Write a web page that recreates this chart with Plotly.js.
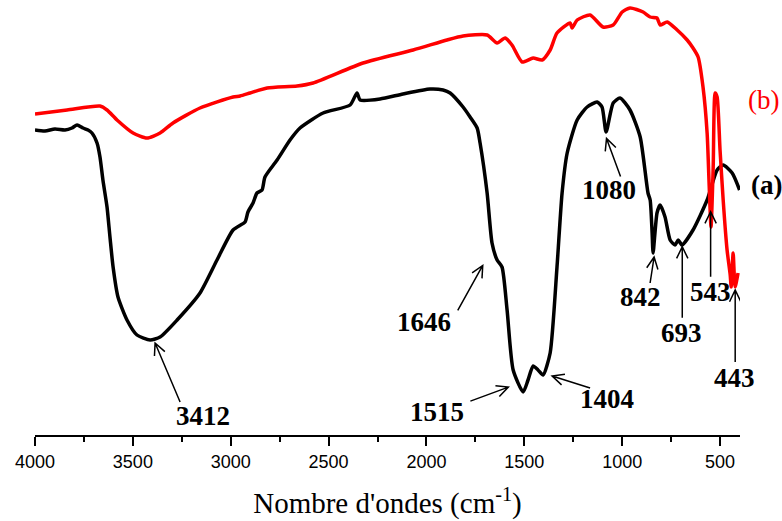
<!DOCTYPE html>
<html>
<head>
<meta charset="utf-8">
<script src="https://cdn.plot.ly/plotly-3.0.1.min.js"></script>
<style>html,body{margin:0;padding:0;background:#fff;}</style>
</head>
<body>
<div id="chart" style="width:782px;height:521px;"></div>
<script>
// Wavenumbers (cm-1) and transmittance (arbitrary units) of spectrum (a)
const wnA = [4000,3949,3898,3847,3811,3785,3755,3729,3709,3683,3668,3653,3632,3617,3601,3576,3530,3479,3412,3361,
  3274,3157,3070,2988,2927,2912,2886,2866,2840,2825,2763,2697,2646,2528,2390,2355,2339,2237,2120,1982,
  1915,1879,1813,1777,1741,1726,1690,1665,1639,1614,1588,1557,1506,1481,1455,1430,1404,1368,1333,1307,
  1281,1230,1179,1128,1103,1082,1046,1011,960,908,868,857,847,842,822,806,781,755,730,714,
  694,638,566,515,484,438,400];
const tA = [305,304,306,305,307,310,307,305,302,292,278,255,228,198,168,138,115,100,95,98,
  115,142,175,205,213,223,232,242,245,258,275,295,307,322,330,342,335,336,341,346,
  345,342,328,318,307,292,242,192,175,168,125,65,43,55,69,65,60,82,168,242,
  282,315,328,333,328,303,332,337,325,298,242,235,202,182,222,230,218,195,190,195,
  190,205,235,265,270,262,245];

// Spectrum (b)
const wnB = [4000,3836,3668,3632,3581,3499,3428,3361,3295,3157,2988,2952,2901,2814,2661,2579,2324,2068,1895,1813,
  1690,1639,1598,1563,1511,1455,1409,1368,1333,1266,1256,1230,1164,1098,1046,1000,960,893,857,822,
  806,770,719,668,638,612,587,566,556,546,535,525,515,500,484,464,448,443,433,423,408];
const tB = [321,325,329,325,315,302,297,302,312,327,338,339,342,347,349,352,372,385,395,399,
  400,392,397,390,373,377,375,385,402,412,407,415,420,408,410,423,427,423,418,417,
  410,413,405,395,387,378,348,302,252,208,268,342,338,285,235,185,160,148,182,148,162];

// Peak labels
const peakLabels = ["3412","1646","1515","1404","1080","842","693","543","443"];
const peakWn     = [3412, 1646, 1515, 1404, 1080, 842, 693, 543, 443];
const peakSeries = ["a","a","a","a","a","a","a","b","b"];

const xTickVals = [4000,3500,3000,2500,2000,1500,1000,500];
const xTitle = "Nombre d'ondes (cm<sup>-1</sup>)";
const seriesNames = ["(a)","(b)"];

// Styling offsets in screen pixels (dx right, dy down): arrow tip, arrow tail, label centre
const arrowStyle = [
  {tip:[5,3],   tail:[30,62],  lab:[53,76]},
  {tip:[-13,10],tail:[-38,55], lab:[-72,67]},
  {tip:[-13,-1],tail:[-51,13], lab:[-84,24]},
  {tip:[9,1],   tail:[47,13],  lab:[64,24]},
  {tip:[0,8],   tail:[14,46],  lab:[2,60]},
  {tip:[1,4],   tail:[-3,30],  lab:[-13,44]},
  {tip:[0,2],   tail:[0,73],   lab:[-1,88]},
  {tip:[-1,1],  tail:[-1,66],  lab:[-1,81]},
  {tip:[4,3],   tail:[4,75],   lab:[3,91]}
];

function interp(wn, t, w) {
  for (let i = 0; i < wn.length - 1; i++) {
    if (wn[i] >= w && w >= wn[i+1]) {
      const f = (wn[i] - w) / (wn[i] - wn[i+1]);
      return t[i] + f * (t[i+1] - t[i]);
    }
  }
  return t[t.length - 1];
}

const traces = [
  {x: wnA, y: tA, type: 'scatter', mode: 'lines', name: seriesNames[0],
   line: {color: '#000000', width: 3.5, shape: 'spline', smoothing: 0.6}},
  {x: wnB, y: tB, type: 'scatter', mode: 'lines', name: seriesNames[1],
   line: {color: '#ff0000', width: 3.5, shape: 'spline', smoothing: 0.6}}
];

const labelFont = {family: 'Liberation Serif, Times New Roman, serif', size: 27, color: '#000'};
const annotations = [];
const shapes = [];
peakWn.forEach((w, i) => {
  const yv = peakSeries[i] === 'a' ? interp(wnA, tA, w) : interp(wnB, tB, w);
  const s = arrowStyle[i];
  annotations.push({x: w, y: yv, xref: 'x', yref: 'y', showarrow: false,
    text: '<b>' + peakLabels[i] + '</b>', font: labelFont,
    xanchor: 'center', yanchor: 'middle', xshift: s.lab[0], yshift: -s.lab[1]});
  const tx = s.tip[0], ty = -s.tip[1], lx = s.tail[0], ly = -s.tail[1];
  const ang = Math.atan2(ly - ty, lx - tx);
  const L = 13, a = 0.45;
  const h1 = [tx + L*Math.cos(ang + a), ty + L*Math.sin(ang + a)];
  const h2 = [tx + L*Math.cos(ang - a), ty + L*Math.sin(ang - a)];
  shapes.push({type: 'path', xref: 'x', yref: 'y', xsizemode: 'pixel', ysizemode: 'pixel',
    xanchor: w, yanchor: yv,
    path: `M ${lx} ${ly} L ${tx} ${ty} M ${h1[0]} ${h1[1]} L ${tx} ${ty} L ${h2[0]} ${h2[1]}`,
    line: {color: '#000', width: 1.5}});
});
annotations.push({xref: 'paper', yref: 'paper', x: 1.037, y: 0.575, showarrow: false,
  text: '<b>' + seriesNames[0] + '</b>', font: labelFont, xanchor: 'center', yanchor: 'middle'});
annotations.push({xref: 'paper', yref: 'paper', x: 1.034, y: 0.770, showarrow: false,
  text: seriesNames[1], font: Object.assign({}, labelFont, {color: '#ff0000'}), xanchor: 'center', yanchor: 'middle'});

const layout = {
  width: 782, height: 521,
  margin: {l: 35, r: 42, t: 0, b: 86},
  paper_bgcolor: '#fff', plot_bgcolor: '#fff',
  showlegend: false,
  xaxis: {
    range: [4000, 398], tickmode: 'array', tickvals: xTickVals,
    ticks: 'outside', ticklen: 9, tickwidth: 2, tickcolor: '#000',
    showline: true, linewidth: 2, linecolor: '#000',
    showgrid: false, zeroline: false,
    minor: {ticks: 'outside', ticklen: 5, tickwidth: 2, tickcolor: '#000', dtick: 250, tick0: 0, showgrid: false},
    tickfont: {family: 'Liberation Sans, Arial, sans-serif', size: 18, color: '#000'},
    title: {text: xTitle, font: {family: 'Liberation Serif, Times New Roman, serif', size: 29, color: '#000'}, standoff: 22}
  },
  yaxis: {range: [0, 435], visible: false, showgrid: false, zeroline: false},
  annotations: annotations,
  shapes: shapes
};

Plotly.newPlot('chart', traces, layout, {staticPlot: true, displayModeBar: false});
</script>
</body>
</html>
